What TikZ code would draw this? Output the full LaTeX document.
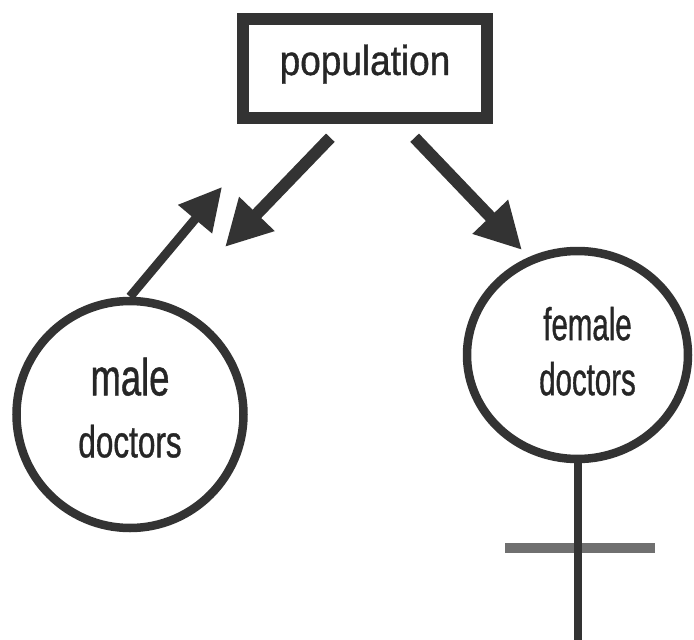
\documentclass[tikz,border=0pt]{standalone}
\usepackage{fontspec}
\setmainfont{Liberation Sans}
\newfontfamily\popfont{Liberation Sans}[FakeStretch=0.88, FakeBold=0.8]
\newfontfamily\malefont{Liberation Sans}[FakeStretch=0.7, FakeBold=0.8]
\newfontfamily\femfont{Liberation Sans}[FakeStretch=0.64, FakeBold=0.8]
\usepackage{xcolor}
\usepackage{tikz}
\usetikzlibrary{arrows.meta, positioning, shapes.geometric}
\definecolor{ink}{HTML}{333333}
\definecolor{bargray}{HTML}{707070}

\begin{document}
\begin{tikzpicture}[
    x=1pt, y=-1pt,
    every node/.style={draw=ink, text=black!85, align=center},
    arrow/.style={-{Triangle[length=46pt, width=46pt]}, line width=12pt, draw=ink},
    group/.style={line width=8.5pt}
]
\useasboundingbox (0,0) rectangle (694,640);

\node[line width=12pt, minimum width=244pt, minimum height=99pt, text height=22pt, text depth=9pt,
      font=\popfont\fontsize{42}{50}\selectfont] (pop) at (365,68.5) {population};
\node[group, circle, minimum size=227pt, text depth=14pt,
      font=\malefont\fontsize{45}{62}\selectfont] (male) at (130,414.5) {{\fontsize{52}{62}\selectfont male}\\doctors};
\node[group, ellipse, minimum width=221pt, minimum height=208pt, text depth=8pt,
      font=\femfont\fontsize{46}{55}\selectfont] (fem) at (577.5,355) {\hspace*{20pt}female\\\hspace*{20pt}doctors};

\coordinate (uptip) at (222,187);
\coordinate (downtip) at (225,247);
\coordinate (femtip) at (522,250);
\coordinate (stemend) at (580,640);
\coordinate (barL) at (505,548);
\coordinate (barR) at (655,548);

\draw[arrow, shorten <=19pt] ([xshift=-21.5pt]pop.south) -- (downtip);
\draw[arrow, shorten <=19pt] ([xshift=36.5pt]pop.south) -- (femtip);
\draw[arrow, line width=9pt, -{Triangle[length=42pt, width=42pt]}] (male.north) -- (uptip);

% female sign
\draw[line width=10pt, bargray] (barL) -- (barR);
\draw[line width=8pt, ink] (fem.south) -- (fem.south |- stemend);
\end{tikzpicture}
\end{document}
